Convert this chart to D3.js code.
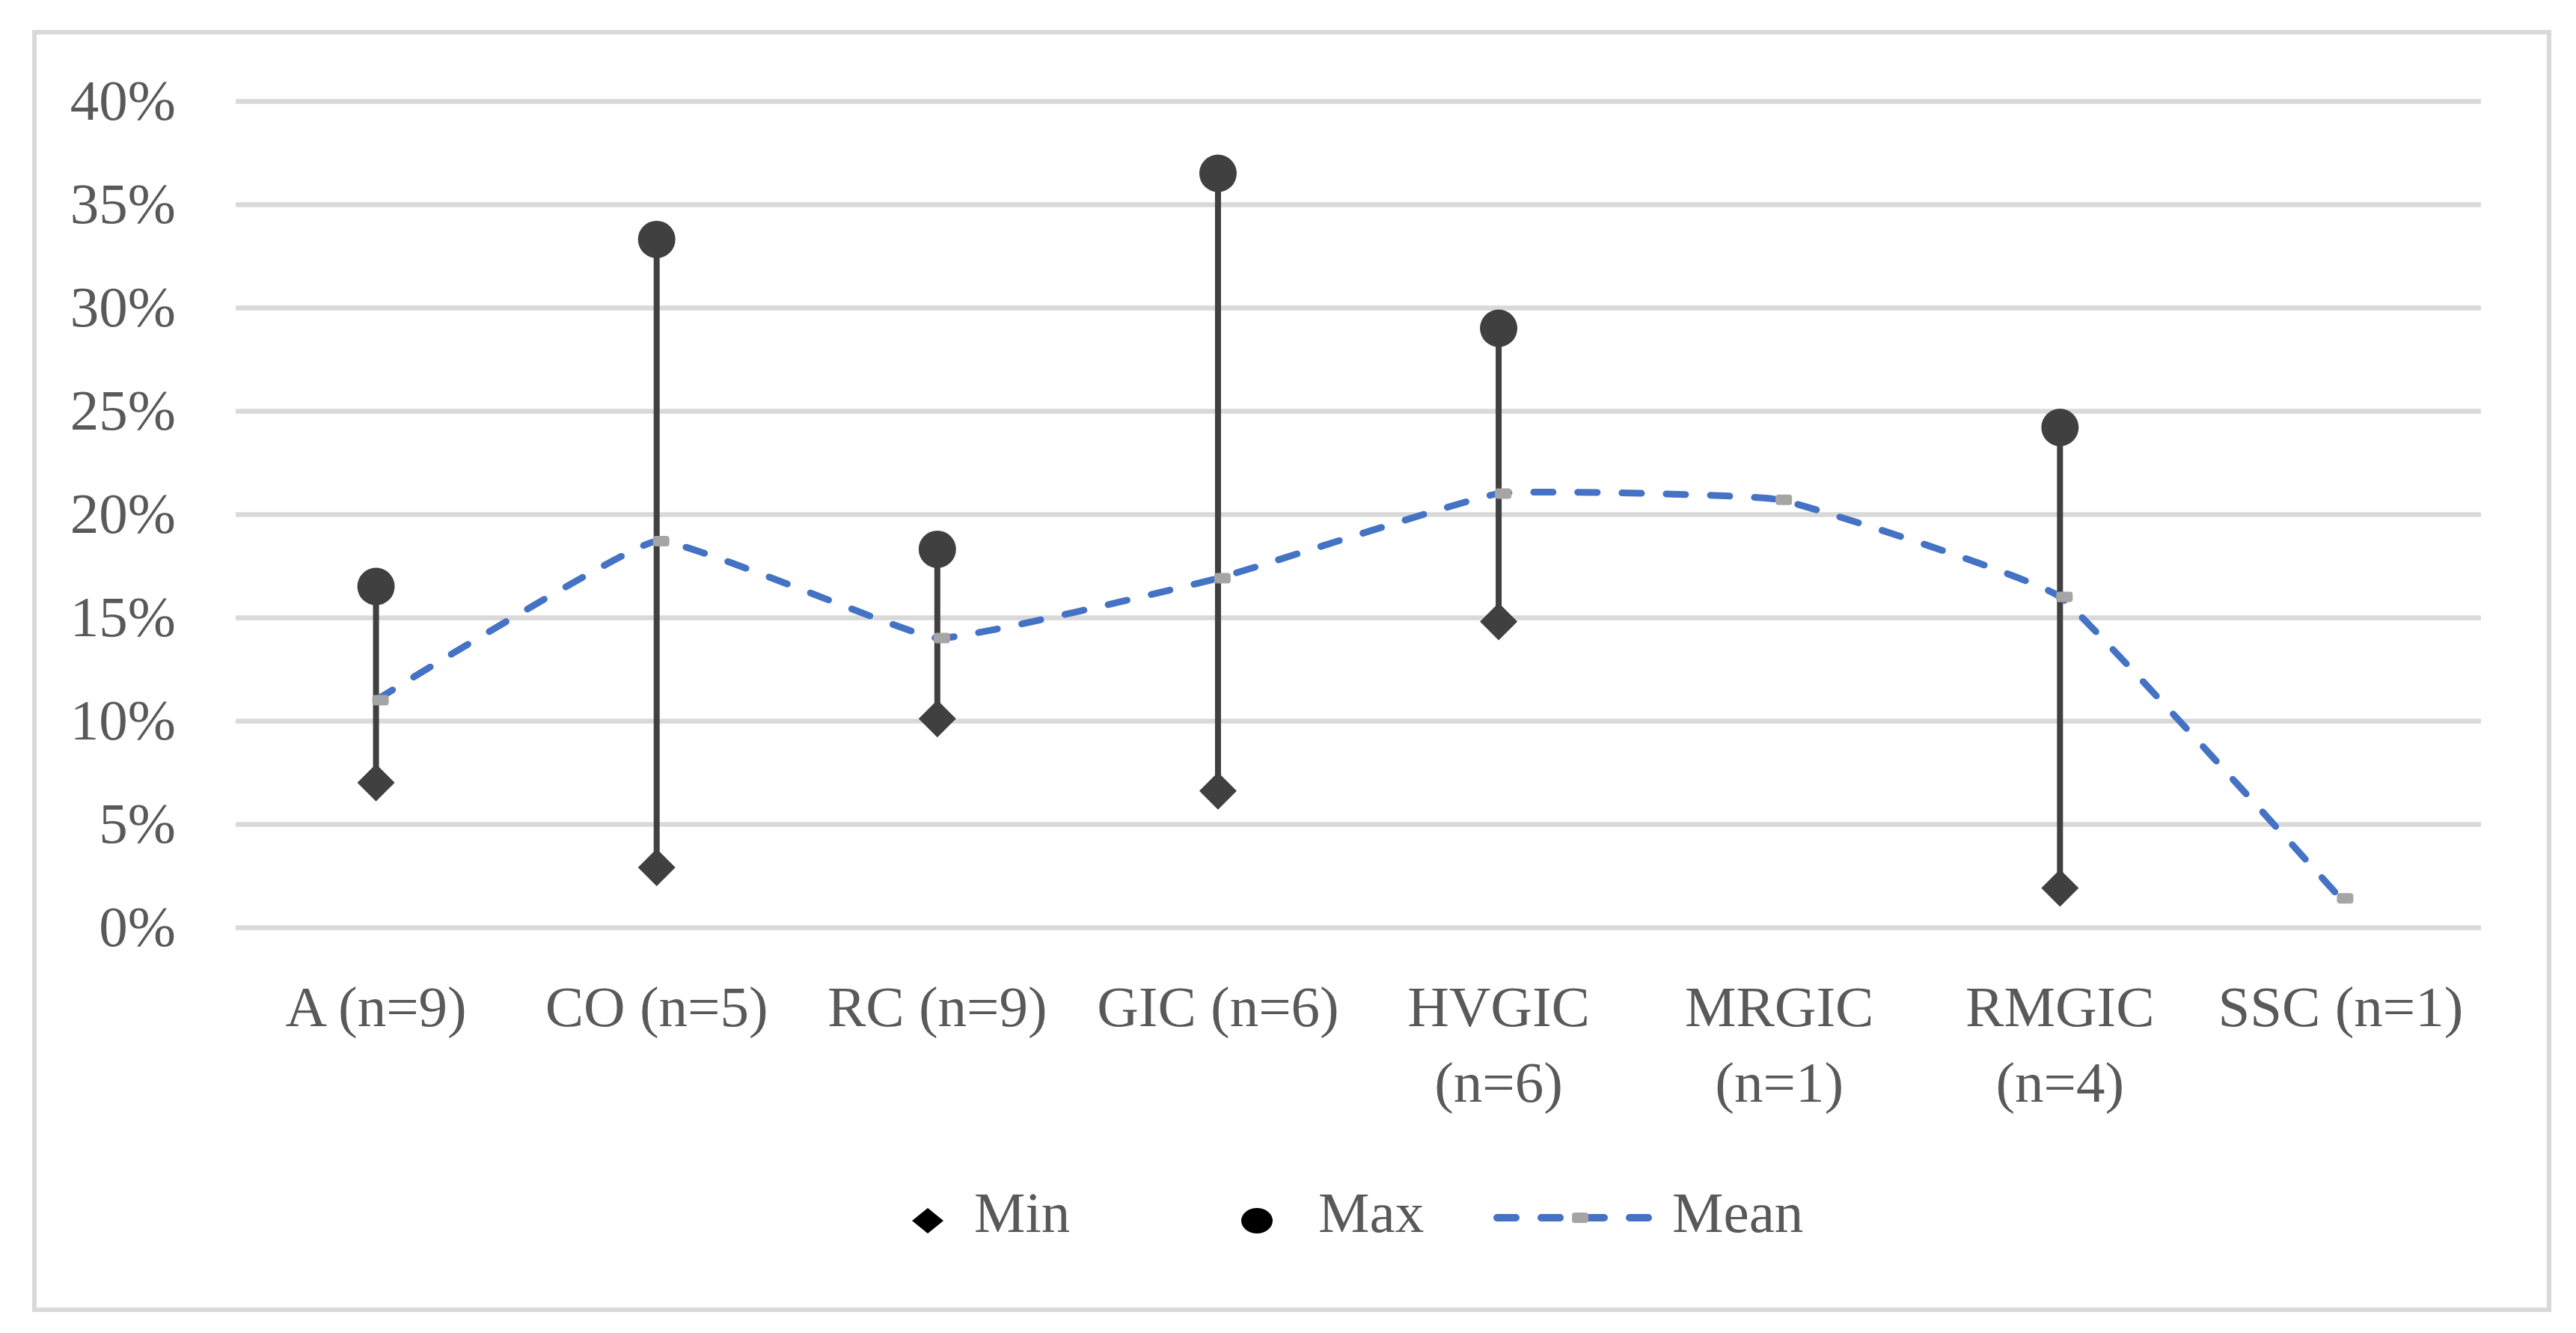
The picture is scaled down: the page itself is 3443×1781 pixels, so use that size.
<!DOCTYPE html>
<html>
<head>
<meta charset="utf-8">
<script src="https://cdn.jsdelivr.net/npm/d3@7"></script>
<style>
  html, body { margin: 0; padding: 0; background: #ffffff; }
  svg { display: block; }
  text { font-family: "Palatino Linotype", "Book Antiqua", Palatino, "Liberation Serif", serif; fill: #595959; }
</style>
</head>
<body>
<svg id="chart" width="3443" height="1781"></svg>
<script>
// ---- data ----
const categories = ["A (n=9)", "CO (n=5)", "RC (n=9)", "GIC (n=6)", "HVGIC (n=6)", "MRGIC (n=1)", "RMGIC (n=4)", "SSC (n=1)"];
const minValues  = [0.070, 0.029, 0.101, 0.066, 0.148, null, 0.019, null];
const maxValues  = [0.165, 0.333, 0.183, 0.365, 0.290, null, 0.242, null];
const meanValues = [0.110, 0.187, 0.140, 0.169, 0.210, 0.207, 0.160, 0.014];
const yTicks     = [0, 0.05, 0.10, 0.15, 0.20, 0.25, 0.30, 0.35, 0.40];
const tickLabels = ["0%", "5%", "10%", "15%", "20%", "25%", "30%", "35%", "40%"];
const legendLabels = ["Min", "Max", "Mean"];

// ---- layout ----
const W = 3443, H = 1781;
const plot = { left: 315, right: 3316, top: 135, bottom: 1239 };
const FS = 77;
const svg = d3.select("#chart");

svg.append("rect").attr("width", W).attr("height", H).attr("fill", "#fff");
svg.append("rect")
  .attr("x", 46).attr("y", 43).attr("width", 3407 - 46).attr("height", 1750 - 43)
  .attr("fill", "none").attr("stroke", "#d9d9d9").attr("stroke-width", 6);

const x = d3.scaleBand().domain(categories).range([plot.left, plot.right]).padding(0);
const cx = c => x(c) + x.bandwidth() / 2;
const y = d3.scaleLinear().domain([0, 0.4]).range([plot.bottom, plot.top]);

// y axis with gridlines
const yAxis = svg.append("g")
  .attr("transform", `translate(${plot.left},0)`)
  .call(d3.axisLeft(y)
    .tickValues(yTicks)
    .tickFormat((d, i) => tickLabels[i])
    .tickSize(-(plot.right - plot.left))
    .tickPadding(80));
yAxis.select(".domain").remove();
yAxis.selectAll(".tick line").attr("stroke", "#d9d9d9").attr("stroke-width", 6.5);
yAxis.selectAll(".tick text")
  .style("font-size", FS + "px").attr("fill", "#595959");

// x axis labels (wrapped)
const xAxis = svg.append("g")
  .attr("transform", `translate(0,${plot.bottom})`)
  .call(d3.axisBottom(x).tickSize(0).tickPadding(0));
xAxis.select(".domain").remove();
xAxis.selectAll(".tick text").each(function(d) {
  const t = d3.select(this);
  t.text(null).attr("dy", null).attr("y", 0)
   .style("font-size", FS + "px").attr("fill", "#595959");
  const probe = t.append("tspan").text(d);
  const w = probe.node().getComputedTextLength();
  probe.remove();
  let lines = [d];
  if (w > x.bandwidth() - 10) {
    const idx = d.indexOf(" (");
    lines = [d.slice(0, idx), d.slice(idx + 1)];
  }
  lines.forEach((ln, i) => {
    t.append("tspan").attr("x", 0).attr("y", 132 + i * 101).text(ln);
  });
});

// stems (high-low lines)
const rangeData = categories.map((c, i) => ({ c, min: minValues[i], max: maxValues[i] }))
  .filter(d => d.min != null && d.max != null);
svg.append("g").selectAll("line").data(rangeData).join("line")
  .attr("x1", d => cx(d.c)).attr("x2", d => cx(d.c))
  .attr("y1", d => y(d.max)).attr("y2", d => y(d.min))
  .attr("stroke", "#404040").attr("stroke-width", 8);

// min diamonds
svg.append("g").selectAll("path").data(rangeData).join("path")
  .attr("d", d => {
    const px = cx(d.c), py = y(d.min), r = 25;
    return `M${px},${py - r}L${px + r},${py}L${px},${py + r}L${px - r},${py}Z`;
  })
  .attr("fill", "#404040");

// max circles
svg.append("g").selectAll("circle").data(rangeData).join("circle")
  .attr("cx", d => cx(d.c)).attr("cy", d => y(d.max)).attr("r", 25)
  .attr("fill", "#404040");

// mean line
const meanData = categories.map((c, i) => ({ c, v: meanValues[i] }));
const line = d3.line().x(d => cx(d.c)).y(d => y(d.v)).curve(d3.curveCardinal.tension(0.7));
svg.append("path").datum(meanData)
  .attr("d", line)
  .attr("fill", "none").attr("stroke", "#4472C4").attr("stroke-width", 9)
  .attr("stroke-dasharray", "26,33").attr("stroke-linecap", "round");

svg.append("g").selectAll("rect").data(meanData).join("rect")
  .attr("x", d => cx(d.c) + 6 - 11).attr("y", d => y(d.v) - 7)
  .attr("width", 22).attr("height", 14).attr("rx", 4)
  .attr("fill", "#A5A5A5");

// legend
const ly = 1631;
const lg = svg.append("g");
lg.append("path")
  .attr("d", `M1240,${ly - 17}L1261,${ly}L1240,${ly + 17}L1219,${ly}Z`)
  .attr("fill", "#000");
lg.append("text").attr("x", 1302).attr("y", ly + 15).style("font-size", FS + "px").text(legendLabels[0]);
lg.append("ellipse").attr("cx", 1680).attr("cy", ly).attr("rx", 21).attr("ry", 17).attr("fill", "#000");
lg.append("text").attr("x", 1762).attr("y", ly + 15).style("font-size", FS + "px").text(legendLabels[1]);
lg.append("line").attr("x1", 2001).attr("x2", 2206).attr("y1", ly - 4).attr("y2", ly - 4)
  .attr("stroke", "#4472C4").attr("stroke-width", 10)
  .attr("stroke-dasharray", "25,34").attr("stroke-linecap", "round");
lg.append("rect").attr("x", 2101).attr("y", ly - 11).attr("width", 22).attr("height", 14).attr("rx", 4)
  .attr("fill", "#A5A5A5");
lg.append("text").attr("x", 2235).attr("y", ly + 15).style("font-size", FS + "px").text(legendLabels[2]);
</script>
</body>
</html>
